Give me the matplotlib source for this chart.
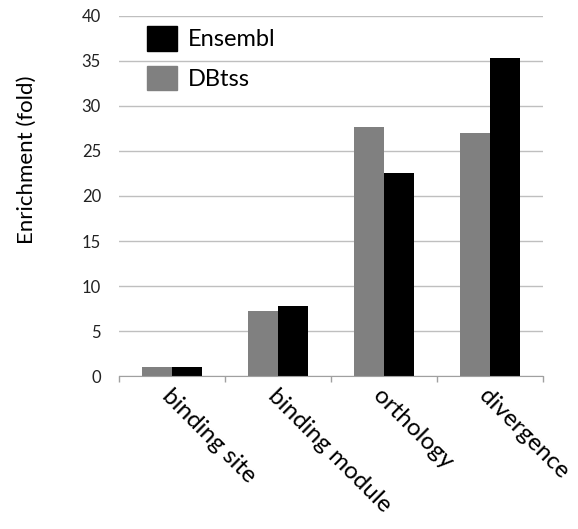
import numpy as np
import matplotlib
matplotlib.use("Agg")
import matplotlib.pyplot as plt
import matplotlib.transforms as mtransforms
from matplotlib.patches import Patch

plt.rcParams['font.family'] = ['Lato', 'DejaVu Sans']

categories = ["binding site", "binding module", "orthology", "divergence"]
dbtss = [1.0, 7.25, 27.7, 27.05]
ensembl = [1.0, 7.75, 22.5, 35.3]

fig = plt.figure(figsize=(5.78, 5.29), dpi=100)
ax = fig.add_axes([0.206, 0.289, 0.733, 0.681])

x = np.arange(len(categories))
w = 0.283
ax.bar(x - w / 2, dbtss, w, color="#808080", zorder=3)
ax.bar(x + w / 2, ensembl, w, color="#000000", zorder=3)

ax.set_xlim(-0.5, len(categories) - 0.5)
ax.set_ylim(0, 40)
ax.set_yticks(np.arange(0, 41, 5))
ax.yaxis.grid(True, color="#bfbfbf", lw=1.0, zorder=0)
ax.tick_params(axis="y", length=0, pad=13, labelsize=12, labelcolor="#222222")

ax.set_xticks(x)
ax.set_xticklabels(categories, rotation=-45, rotation_mode="anchor",
                   ha="left", va="center", fontsize=17.5)
ax.tick_params(axis="x", which="major", length=0, pad=12)
shift = mtransforms.ScaledTranslation(-5 / 72, 0, fig.dpi_scale_trans)
for lab in ax.get_xticklabels():
    lab.set_transform(lab.get_transform() + shift)
ax.set_xticks(np.arange(-0.5, len(categories)), minor=True)
ax.tick_params(axis="x", which="minor", length=4.5, color="#a0a0a0", width=1)

for s in ["left", "right", "top"]:
    ax.spines[s].set_visible(False)
ax.spines["bottom"].set_color("#a0a0a0")
ax.spines["bottom"].set_zorder(4)

ax.set_ylabel("Enrichment (fold)", fontsize=16)
ax.yaxis.set_label_coords(-0.193, 0.6)

handles = [Patch(color="#000000", label="Ensembl"),
           Patch(color="#808080", label="DBtss")]
ax.legend(handles=handles, loc="upper left", bbox_to_anchor=(0.066, 0.972),
          frameon=False, fontsize=17, handlelength=1.27, handleheight=1.23,
          labelspacing=0.64, handletextpad=0.47, borderpad=0, borderaxespad=0)

fig.savefig("out.png", dpi=100)
